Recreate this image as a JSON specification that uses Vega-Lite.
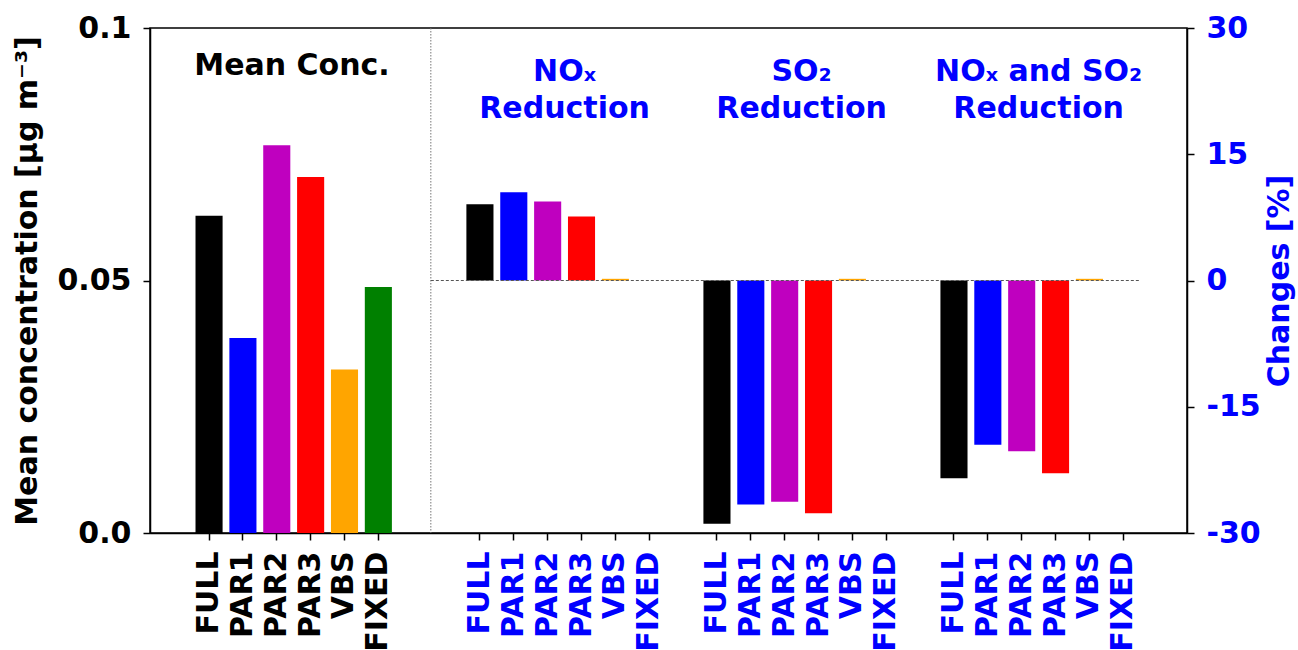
{
  "$schema": "https://vega.github.io/schema/vega-lite/v6.json",
  "width": 1037,
  "height": 505,
  "autosize": {"type": "none"},
  "padding": {"left": 150, "top": 28, "right": 111, "bottom": 117},
  "background": "white",
  "config": {
    "font": "DejaVu Sans",
    "view": {"stroke": "black", "strokeWidth": 1.5},
    "axis": {
      "labelFont": "DejaVu Sans",
      "titleFont": "DejaVu Sans",
      "labelFontSize": 30,
      "titleFontSize": 30,
      "labelFontWeight": "bold",
      "titleFontWeight": "bold",
      "domainColor": "black",
      "domainWidth": 1.5,
      "tickColor": "black",
      "tickWidth": 1.5,
      "tickSize": 7,
      "labelLimit": 0,
      "grid": false
    }
  },
  "datasets": {
    "conc": [
      {"panel": "Mean", "model": "FULL", "key": "Mean FULL", "conc": 0.0628},
      {"panel": "Mean", "model": "PAR1", "key": "Mean PAR1", "conc": 0.0386},
      {"panel": "Mean", "model": "PAR2", "key": "Mean PAR2", "conc": 0.0768},
      {"panel": "Mean", "model": "PAR3", "key": "Mean PAR3", "conc": 0.0705},
      {"panel": "Mean", "model": "VBS", "key": "Mean VBS", "conc": 0.0324},
      {"panel": "Mean", "model": "FIXED", "key": "Mean FIXED", "conc": 0.0487}
    ],
    "chg": [
      {"panel": "NOx", "model": "FULL", "key": "NOx FULL", "change": 9.05},
      {"panel": "NOx", "model": "PAR1", "key": "NOx PAR1", "change": 10.5},
      {"panel": "NOx", "model": "PAR2", "key": "NOx PAR2", "change": 9.4},
      {"panel": "NOx", "model": "PAR3", "key": "NOx PAR3", "change": 7.6},
      {"panel": "NOx", "model": "VBS", "key": "NOx VBS", "change": 0.2},
      {"panel": "NOx", "model": "FIXED", "key": "NOx FIXED", "change": 0},
      {"panel": "SO2", "model": "FULL", "key": "SO2 FULL", "change": -28.9},
      {"panel": "SO2", "model": "PAR1", "key": "SO2 PAR1", "change": -26.6},
      {"panel": "SO2", "model": "PAR2", "key": "SO2 PAR2", "change": -26.3},
      {"panel": "SO2", "model": "PAR3", "key": "SO2 PAR3", "change": -27.65},
      {"panel": "SO2", "model": "VBS", "key": "SO2 VBS", "change": 0.2},
      {"panel": "SO2", "model": "FIXED", "key": "SO2 FIXED", "change": 0},
      {"panel": "Both", "model": "FULL", "key": "Both FULL", "change": -23.5},
      {"panel": "Both", "model": "PAR1", "key": "Both PAR1", "change": -19.5},
      {"panel": "Both", "model": "PAR2", "key": "Both PAR2", "change": -20.3},
      {"panel": "Both", "model": "PAR3", "key": "Both PAR3", "change": -22.9},
      {"panel": "Both", "model": "VBS", "key": "Both VBS", "change": 0.2},
      {"panel": "Both", "model": "FIXED", "key": "Both FIXED", "change": 0}
    ]
  },
  "layer": [
    {
      "layer": [
        {
          "data": {"name": "conc"},
          "mark": {"type": "bar"},
          "encoding": {
            "x": {
              "field": "key",
              "type": "nominal",
              "sort": null,
              "scale": {
                "domain": ["gap0", "Mean FULL", "Mean PAR1", "Mean PAR2", "Mean PAR3", "Mean VBS", "Mean FIXED", "gap1", "gap2",
                  "NOx FULL", "NOx PAR1", "NOx PAR2", "NOx PAR3", "NOx VBS", "NOx FIXED", "gap3",
                  "SO2 FULL", "SO2 PAR1", "SO2 PAR2", "SO2 PAR3", "SO2 VBS", "SO2 FIXED", "gap4",
                  "Both FULL", "Both PAR1", "Both PAR2", "Both PAR3", "Both VBS", "Both FIXED", "gap5"],
                "paddingInner": 0.2,
                "paddingOuter": 0.413,
                "align": 0.4165
              },
              "axis": {
                "title": null,
                "values": ["Mean FULL", "Mean PAR1", "Mean PAR2", "Mean PAR3", "Mean VBS", "Mean FIXED",
                  "NOx FULL", "NOx PAR1", "NOx PAR2", "NOx PAR3", "NOx VBS", "NOx FIXED",
                  "SO2 FULL", "SO2 PAR1", "SO2 PAR2", "SO2 PAR3", "SO2 VBS", "SO2 FIXED",
                  "Both FULL", "Both PAR1", "Both PAR2", "Both PAR3", "Both VBS", "Both FIXED"],
                "labelExpr": "split(datum.value, ' ')[1]",
                "labelAngle": -90,
                "labelAlign": "right",
                "labelBaseline": "middle",
                "labelPadding": 11,
                "labelOverlap": false,
                "labelColor": {"condition": {"test": "indexof(datum.value, 'Mean') === 0", "value": "black"}, "value": "blue"}
              }
            },
            "y": {
              "field": "conc",
              "type": "quantitative",
              "scale": {"domain": [0, 0.1], "nice": false},
              "axis": {
                "orient": "left",
                "title": "Mean concentration [μg m⁻³]",
                "values": [0, 0.05, 0.1],
                "labelExpr": "datum.value === 0 ? '0.0' : (datum.value > 0.09 ? '0.1' : '0.05')",
                "labelPadding": 12,
                "titlePadding": 14,
                "labelColor": "black",
                "titleColor": "black"
              }
            },
            "color": {
              "field": "model",
              "type": "nominal",
              "scale": {"domain": ["FULL", "PAR1", "PAR2", "PAR3", "VBS", "FIXED"], "range": ["#000000", "#0000ff", "#bf00bf", "#ff0000", "#ffa500", "#008000"]},
              "legend": null
            }
          }
        },
        {
          "data": {"name": "chg"},
          "mark": {"type": "bar"},
          "encoding": {
            "x": {"field": "key", "type": "nominal", "sort": null},
            "y": {
              "field": "change",
              "type": "quantitative",
              "scale": {"domain": [-30, 30], "nice": false},
              "axis": {
                "orient": "right",
                "title": "Changes [%]",
                "values": [-30, -15, 0, 15, 30],
                "labelExpr": "datum.value < 0 ? '-' + abs(datum.value) : '' + datum.value",
                "labelColor": "blue",
                "titleColor": "blue",
                "labelPadding": 12,
                "titlePadding": 4,
                "titleAngle": 270,
                "titleBaseline": "top"
              }
            },
            "color": {"field": "model", "type": "nominal", "legend": null}
          }
        }
      ],
      "resolve": {"scale": {"y": "independent"}}
    },
    {
      "data": {"values": [{}]},
      "layer": [
        {
          "mark": {"type": "rule", "color": "#777777", "strokeWidth": 1, "strokeDash": [1.5, 1.5]},
          "encoding": {
            "x": {"datum": 6.55, "type": "quantitative", "scale": {"domain": [-1.744, 28.882], "nice": false, "zero": false}, "axis": null}
          }
        },
        {
          "mark": {"type": "rule", "color": "#555555", "strokeWidth": 1, "strokeDash": [3, 2]},
          "encoding": {
            "x": {"datum": 6.55, "type": "quantitative"},
            "x2": {"datum": 27.5},
            "y": {"datum": 0, "type": "quantitative", "scale": {"domain": [-30, 30], "nice": false}, "axis": null}
          }
        },
        {
          "mark": {"type": "text", "text": "Mean Conc.", "fontSize": 30, "fontWeight": "bold", "color": "black", "align": "center", "baseline": "middle"},
          "encoding": {"x": {"datum": 2.45, "type": "quantitative"}, "y": {"datum": 25.5, "type": "quantitative"}}
        },
        {
          "mark": {"type": "text", "text": "NOₓ", "fontSize": 30, "fontWeight": "bold", "color": "blue", "align": "center", "baseline": "middle"},
          "encoding": {"x": {"datum": 10.5, "type": "quantitative"}, "y": {"datum": 24.8, "type": "quantitative"}}
        },
        {
          "mark": {"type": "text", "text": "Reduction", "fontSize": 30, "fontWeight": "bold", "color": "blue", "align": "center", "baseline": "middle"},
          "encoding": {"x": {"datum": 10.5, "type": "quantitative"}, "y": {"datum": 20.4, "type": "quantitative"}}
        },
        {
          "mark": {"type": "text", "text": "SO₂", "fontSize": 30, "fontWeight": "bold", "color": "blue", "align": "center", "baseline": "middle"},
          "encoding": {"x": {"datum": 17.5, "type": "quantitative"}, "y": {"datum": 24.8, "type": "quantitative"}}
        },
        {
          "mark": {"type": "text", "text": "Reduction", "fontSize": 30, "fontWeight": "bold", "color": "blue", "align": "center", "baseline": "middle"},
          "encoding": {"x": {"datum": 17.5, "type": "quantitative"}, "y": {"datum": 20.4, "type": "quantitative"}}
        },
        {
          "mark": {"type": "text", "text": "NOₓ and SO₂", "fontSize": 30, "fontWeight": "bold", "color": "blue", "align": "center", "baseline": "middle"},
          "encoding": {"x": {"datum": 24.5, "type": "quantitative"}, "y": {"datum": 24.8, "type": "quantitative"}}
        },
        {
          "mark": {"type": "text", "text": "Reduction", "fontSize": 30, "fontWeight": "bold", "color": "blue", "align": "center", "baseline": "middle"},
          "encoding": {"x": {"datum": 24.5, "type": "quantitative"}, "y": {"datum": 20.4, "type": "quantitative"}}
        }
      ]
    }
  ],
  "resolve": {"scale": {"x": "independent", "y": "independent"}}
}
